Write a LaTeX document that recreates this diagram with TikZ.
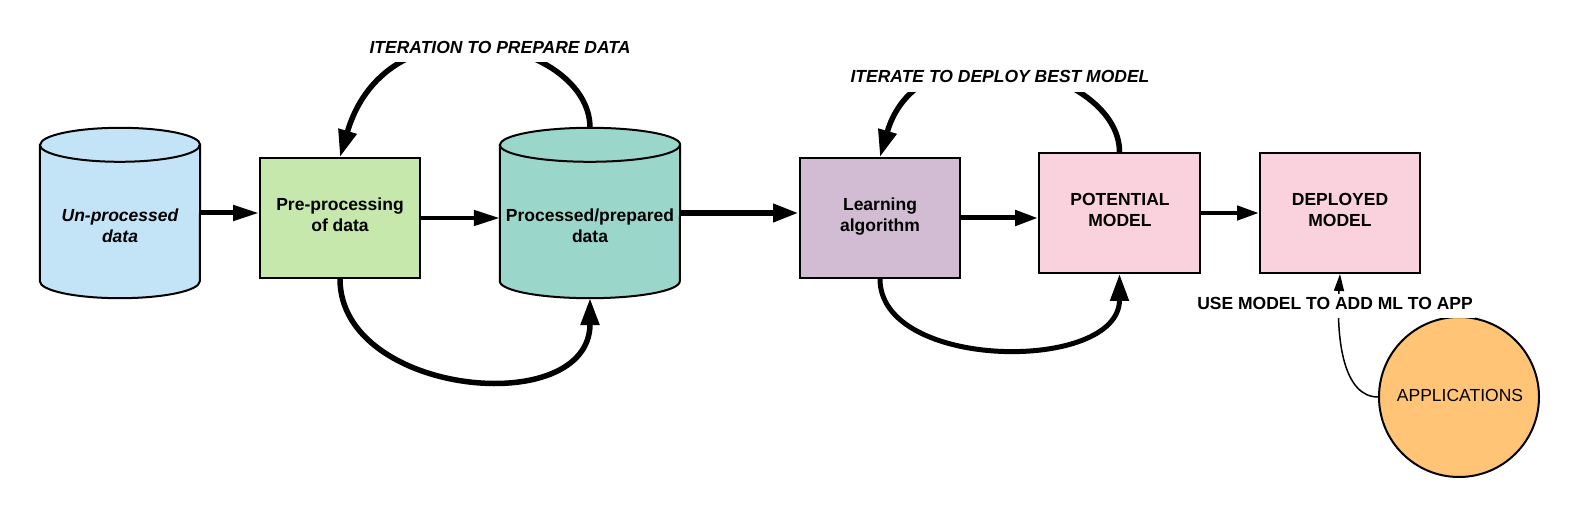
\documentclass[tikz,border=0pt]{standalone}
\usepackage{fontspec}
\setmainfont{Liberation Sans}
\usetikzlibrary{arrows.meta,calc}
\definecolor{cblue}{HTML}{C3E4F6}
\definecolor{cgreen}{HTML}{C7E8AC}
\definecolor{cteal}{HTML}{9BD6CB}
\definecolor{clav}{HTML}{D2BCD3}
\definecolor{cpink}{HTML}{FAD2DE}
\definecolor{corange}{HTML}{FFC476}
\newcommand\mycyl[3]{%
  \path[draw=black, line width=2pt, fill=#3]
    ([yshift=-17pt]#1.north west) -- ([yshift=17pt]#1.south west)
    arc[start angle=180, end angle=360, x radius=#2, y radius=17pt]
    -- ([yshift=-17pt]#1.north east)
    arc[start angle=0, end angle=180, x radius=#2, y radius=17pt] -- cycle;
  \draw[line width=2pt] ([yshift=-17pt]#1.north west)
    arc[start angle=180, end angle=360, x radius=#2, y radius=17pt];
}
\tikzset{
  box/.style={draw=black, line width=2pt, minimum width=160pt, minimum height=120pt, inner sep=0pt},
  cylbox/.style={minimum height=170pt, inner sep=0pt},
  lb/.style={font=\fontsize{17.5}{21}\selectfont\bfseries, inner sep=0pt, anchor=base},
  lbi/.style={lb, font=\fontsize{17.5}{21}\selectfont\bfseries\itshape},
  conn/.style={draw=black, -{Triangle[length=26pt,width=15pt]}},
  loopline/.style={draw=black, line width=5.5pt, -{Triangle[length=27pt,width=18pt]}},
}
\begin{document}
\begin{tikzpicture}[x=1pt,y=-1pt]
\useasboundingbox[fill=white] (0,0) rectangle (1580,518);

% shapes
\node[cylbox, minimum width=160pt] (c1) at (120,213) {};
\mycyl{c1}{80pt}{cblue}
\node[box, fill=cgreen] (pre) at (340,218) {};
\node[cylbox, minimum width=180pt] (c2) at (590,213) {};
\mycyl{c2}{90pt}{cteal}
\node[box, fill=clav] (learn) at (880,218) {};
\node[box, fill=cpink, minimum width=161pt] (pot) at (1119.5,213) {};
\node[box, fill=cpink] (dep) at (1340,213) {};
\node[circle, draw=black, line width=2pt, fill=corange, minimum size=160pt, inner sep=0pt] (app) at (1459,397) {};

% texts
\node[lbi] (t1a) at (120,222) {Un-processed};
\node[lbi] (t1b) at (120,243) {data};
\node[lb] (t2a) at (340,211) {Pre-processing};
\node[lb] (t2b) at (340,232) {of data};
\node[lb] (t3a) at (590,222) {Processed/prepared};
\node[lb] (t3b) at (590,243) {data};
\node[lb] (t4a) at (880,211) {Learning};
\node[lb] (t4b) at (880,232) {algorithm};
\node[lb] (t5a) at (1120,206) {POTENTIAL};
\node[lb] (t5b) at (1120,227) {MODEL};
\node[lb] (t6a) at (1340,206) {DEPLOYED};
\node[lb] (t6b) at (1340,227) {MODEL};
\node[lb, font=\fontsize{17.5}{21}\selectfont] (t7) at (1460,402) {APPLICATIONS};

% straight connectors
\draw[conn, line width=5pt] (c1.east) -- (c1.east -| pre.west);
\draw[conn, line width=4.5pt] (pre.east) -- (pre.east -| c2.west);
\draw[conn, line width=6.5pt, -{Triangle[length=26pt,width=17pt]}] (c2.east) -- (c2.east -| learn.west);
\draw[conn, line width=5pt, -{Triangle[length=23pt,width=15pt]}] (learn.east) -- (learn.east -| pot.west);
\draw[conn, line width=4.5pt, -{Triangle[length=22pt,width=14pt]}] (pot.east) -- (dep.west);

% loops
\draw[loopline] (c2.north) .. controls +(0,-87) and +(48,-163) .. (pre.north);
\draw[loopline] (pre.south) .. controls +(0,117) and +(0,122) .. (c2.south);
\draw[loopline] (pot.north) .. controls +(0,-83) and +(40,-138) .. (learn.north);
\draw[loopline, line width=5pt] (learn.south) .. controls +(0,92) and +(0,99) .. (pot.south);

% application connector
\draw[line width=1.5pt, -{Triangle[length=17pt,width=10pt]}] (app.west) .. controls +(-34,0) and +(-4,67) .. (dep.south);

% labels
\node[lbi, fill=white, text height=24pt, text depth=8pt, inner xsep=2pt] (it1) at (500,54) {ITERATION TO PREPARE DATA};
\node[lbi, fill=white, text height=21.6pt, text depth=9pt, inner xsep=2pt] (it2) at (1000,83) {ITERATE TO DEPLOY BEST MODEL};
\node[lb, fill=white, text height=16pt, text depth=8pt, inner xsep=2pt] (use) at (1335,310) {USE MODEL TO ADD ML TO APP};
\end{tikzpicture}
\end{document}
